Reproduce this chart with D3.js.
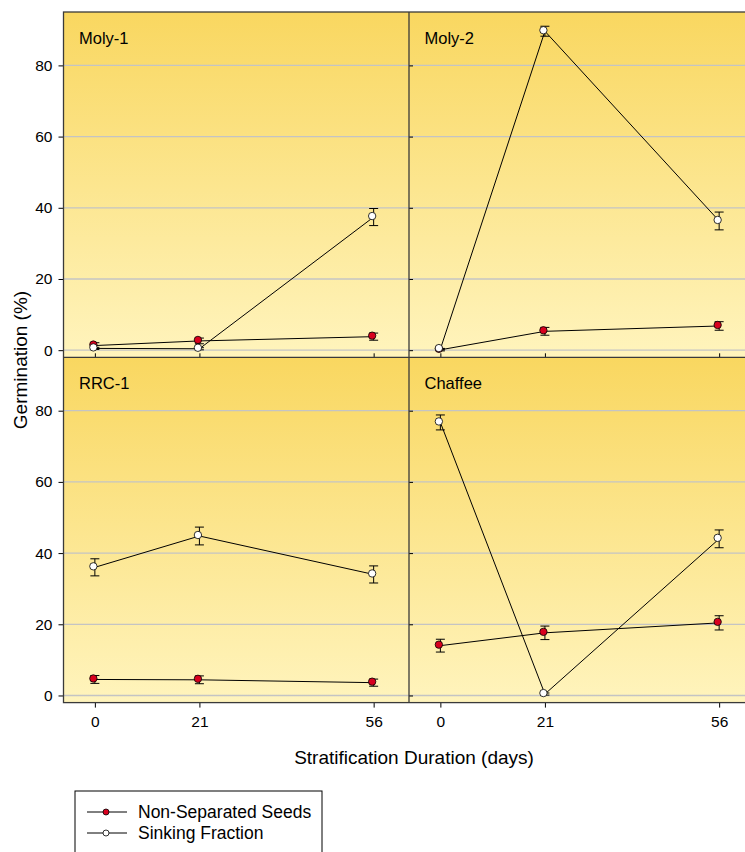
<!DOCTYPE html>
<html>
<head>
<meta charset="utf-8">
<script src="https://cdn.jsdelivr.net/npm/d3@7"></script>
<style>
  body { margin: 0; background: #fff; }
  svg { display: block; font-family: "Liberation Sans", Arial, sans-serif; }
</style>
</head>
<body>
<div id="chart"></div>
<script>
var width = 745;
var height = 852;

// data
var days = [0, 21, 56];
var panels = ["Moly-1", "Moly-2", "RRC-1", "Chaffee"];
var yTicks = [0, 20, 40, 60, 80];

var nonSepMean = [[1.3, 2.6, 3.8], [0.1, 5.3, 6.8], [4.5, 4.4, 3.6], [14.0, 17.6, 20.4]];
var nonSepErr  = [[0.8, 0.8, 1.0], [0.3, 1.1, 1.2], [1.1, 1.1, 1.0], [1.8, 1.9, 2.0]];
var sinkMean   = [[0.5, 0.4, 37.4], [0.3, 89.6, 36.3], [36.0, 44.8, 34.0], [76.7, 0.4, 44.0]];
var sinkErr    = [[0.3, 0.3, 2.4], [0.2, 1.4, 2.5], [2.4, 2.5, 2.4], [2.1, 0.3, 2.5]];

var legendLabels = ["Non-Separated Seeds", "Sinking Fraction"];

var gx = 63.5, gy = 12;
var pw = 345.5, ph = 345.3;

var x = d3.scaleLinear().domain([-6.3, 63.1]).range([0, pw]);
var y = d3.scaleLinear().domain([-2, 95]).range([ph, 0]);

var svg = d3.select("#chart").append("svg")
    .attr("width", width)
    .attr("height", height);

var grad = svg.append("defs").append("linearGradient")
    .attr("id", "bg")
    .attr("x1", 0).attr("y1", 0).attr("x2", 0).attr("y2", 1);
grad.append("stop").attr("offset", "0%").attr("stop-color", "#f9d760");
grad.append("stop").attr("offset", "100%").attr("stop-color", "#fff4bd");

var line = d3.line()
    .x((d, i) => x(days[i]))
    .y(d => y(d));

panels.forEach(function(name, p) {
  var col = p % 2, row = Math.floor(p / 2);
  var g = svg.append("g")
      .attr("transform", `translate(${gx + col * pw},${gy + row * ph})`);

  g.append("rect")
      .attr("width", pw)
      .attr("height", ph)
      .attr("fill", "url(#bg)");

  g.append("g")
    .selectAll("line")
    .data(yTicks)
    .join("line")
      .attr("x1", 0)
      .attr("x2", pw)
      .attr("y1", d => y(d))
      .attr("y2", d => y(d))
      .attr("stroke", "#c4c4c4")
      .attr("stroke-width", 1.3);

  g.append("text")
      .attr("x", 15.5)
      .attr("y", 31.5)
      .attr("font-size", 16.5)
      .attr("fill", "#000")
      .text(name);

  var series = [
    {mean: nonSepMean[p], err: nonSepErr[p], fill: "#d8001e"},
    {mean: sinkMean[p], err: sinkErr[p], fill: "#fff"}
  ];

  series.forEach(function(s) {
    g.append("path")
        .datum(s.mean)
        .attr("fill", "none")
        .attr("stroke", "#000")
        .attr("stroke-width", 1)
        .attr("d", line);
  });

  series.forEach(function(s) {
    var eb = g.append("g").attr("stroke", "#000").attr("stroke-width", 1);
    s.mean.forEach(function(m, i) {
      var cx = x(days[i]);
      eb.append("line").attr("x1", cx).attr("x2", cx)
          .attr("y1", y(m - s.err[i])).attr("y2", y(m + s.err[i]));
      eb.append("line").attr("x1", cx - 4.5).attr("x2", cx + 4.5)
          .attr("y1", y(m - s.err[i])).attr("y2", y(m - s.err[i]));
      eb.append("line").attr("x1", cx - 4.5).attr("x2", cx + 4.5)
          .attr("y1", y(m + s.err[i])).attr("y2", y(m + s.err[i]));
    });
  });

  series.forEach(function(s) {
    g.append("g")
      .selectAll("circle")
      .data(s.mean)
      .join("circle")
        .attr("cx", (d, i) => x(days[i]) - 1.5)
        .attr("cy", d => y(d) - 1)
        .attr("r", 3.7)
        .attr("fill", s.fill)
        .attr("stroke", "#000")
        .attr("stroke-width", 0.8);
  });

  // axes
  if (col === 0) {
    g.append("g")
        .call(d3.axisLeft(y).tickValues(yTicks).tickSize(5).tickPadding(6))
        .call(a => a.select(".domain").remove())
        .call(a => a.selectAll("text").attr("font-size", 15.5).attr("fill", "#000").attr("font-family", "Liberation Sans, Arial, sans-serif"));
  } else {
    g.append("g")
        .call(d3.axisRight(y).tickValues(yTicks).tickSize(4).tickFormat(""))
        .call(a => a.select(".domain").remove());
  }
  if (row === 1) {
    g.append("g")
        .attr("transform", `translate(0,${ph})`)
        .call(d3.axisBottom(x).tickValues(days).tickSize(5).tickPadding(8))
        .call(a => a.select(".domain").remove())
        .call(a => a.selectAll("text").attr("font-size", 15.5).attr("fill", "#000").attr("font-family", "Liberation Sans, Arial, sans-serif"));
  } else {
    g.append("g")
        .attr("transform", `translate(0,${ph})`)
        .call(d3.axisTop(x).tickValues(days).tickSize(4).tickFormat(""))
        .call(a => a.select(".domain").remove());
  }
});

// frame
var frame = svg.append("g").attr("stroke", "#3a3a3a").attr("stroke-width", 1.3).attr("fill", "none");
frame.append("rect")
    .attr("x", gx).attr("y", gy)
    .attr("width", 2 * pw).attr("height", 2 * ph);
frame.append("line")
    .attr("x1", gx).attr("x2", gx + 2 * pw)
    .attr("y1", gy + ph).attr("y2", gy + ph);
frame.append("line")
    .attr("x1", gx + pw).attr("x2", gx + pw)
    .attr("y1", gy).attr("y2", gy + 2 * ph);

// axis titles
svg.append("text")
    .attr("transform", `translate(27,360) rotate(-90)`)
    .attr("text-anchor", "middle")
    .attr("font-size", 19)
    .text("Germination (%)");

svg.append("text")
    .attr("x", 414)
    .attr("y", 764)
    .attr("text-anchor", "middle")
    .attr("font-size", 19)
    .text("Stratification Duration (days)");

// legend
var lg = svg.append("g").attr("transform", "translate(75,791)");
lg.append("rect")
    .attr("width", 247)
    .attr("height", 80)
    .attr("fill", "#fff")
    .attr("stroke", "#000")
    .attr("stroke-width", 1);

var legendFill = ["#d8001e", "#fff"];
legendLabels.forEach(function(t, i) {
  var row = lg.append("g").attr("transform", `translate(0,${21 + i * 21})`);
  row.append("line").attr("x1", 12).attr("x2", 52).attr("stroke", "#000").attr("stroke-width", 1);
  row.append("circle").attr("cx", 31).attr("r", 3).attr("fill", legendFill[i]).attr("stroke", "#000").attr("stroke-width", 0.8);
  row.append("text").attr("x", 63).attr("y", 6).attr("font-size", 17.5).text(t);
});
</script>
</body>
</html>
